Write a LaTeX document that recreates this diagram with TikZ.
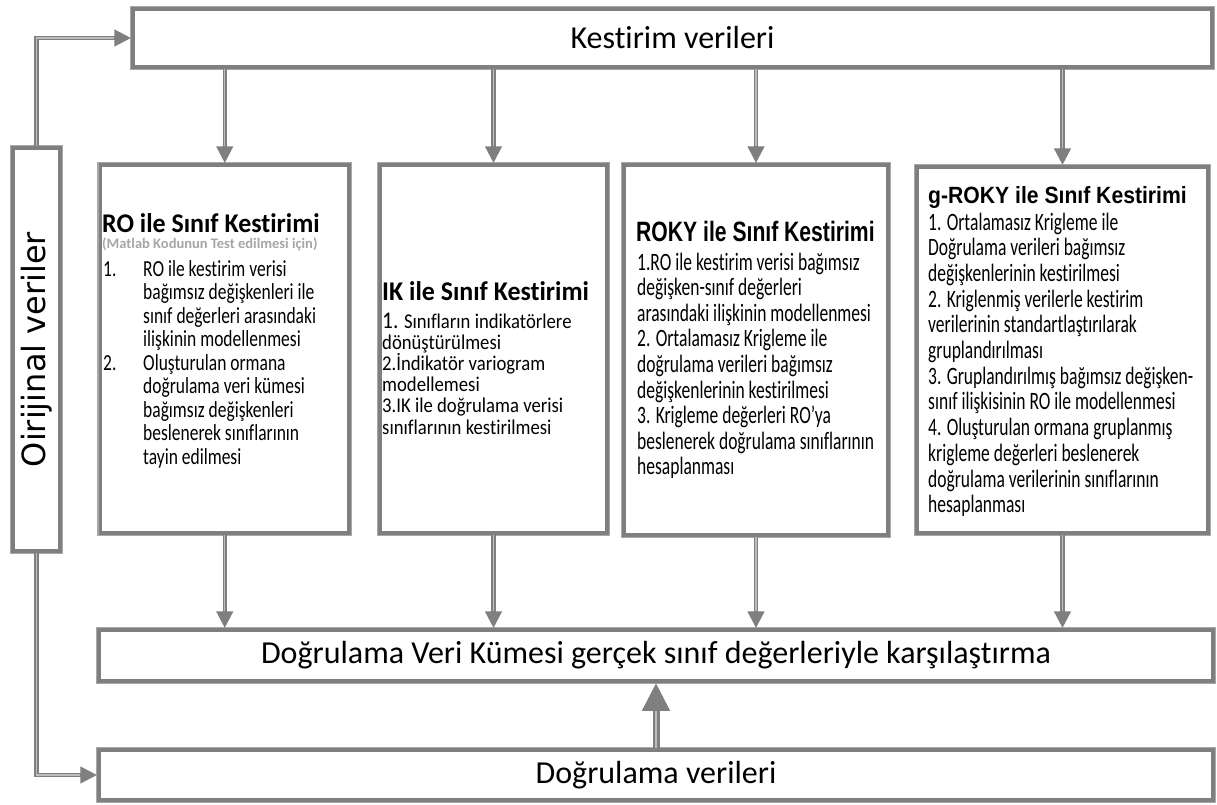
\documentclass[tikz,border=0pt]{standalone}
\usepackage{fontspec}
\usepackage{graphicx}
\usetikzlibrary{arrows.meta}
\setmainfont{Carlito}[Ligatures=NoCommon]
\newfontfamily\calN{Carlito}[Ligatures=NoCommon]
\newfontfamily\calT{Carlito}[FakeStretch=0.76,Ligatures=NoCommon]
\newfontfamily\calB{Carlito}[FakeStretch=0.89,Ligatures=NoCommon]
\newfontfamily\calS{Carlito}[FakeStretch=0.70,Ligatures=NoCommon]
\newfontfamily\calR{Carlito}[FakeStretch=0.96,Ligatures=NoCommon]
\newfontfamily\arA{Liberation Sans}[FakeStretch=0.755]
\newfontfamily\arB{Liberation Sans}[FakeStretch=0.9]
\newfontfamily\dejav{DejaVu Sans}
\newcommand\setfs[2]{\fontsize{#1}{#2}\selectfont}
\definecolor{gdark}{HTML}{7F7F7F}
\definecolor{glight}{HTML}{A8A8A8}
\definecolor{gstripe}{HTML}{BDBDBD}
\definecolor{gsub}{HTML}{A6A6A6}
\tikzset{
  frame/.style={draw=gdark, line width=3.5pt, fill=white,
    preaction={draw=glight, line width=6.5pt}, inner sep=0pt},
  arr/.style={draw=gdark, line width=4.5pt, -{Triangle[width=16pt,length=17pt]},
    postaction={draw=gstripe, line width=1.2pt, -, shorten >=17pt}},
  bigarr/.style={draw=gdark, line width=7pt, -{Triangle[width=26pt,length=28pt]},
    postaction={draw=gstripe, line width=1.5pt, -, shorten >=28pt}},
  txt/.style={anchor=base west, inner sep=0pt, align=left},
  mainlbl/.style={font=\calN\setfs{32}{36}},
}
\begin{document}
\begin{tikzpicture}[x=1pt, y=-1pt]
\useasboundingbox (0,0) rectangle (1217,804);
\fill[white] (0,0) rectangle (1217,804);

% main boxes
\node[frame, mainlbl, minimum width=1079pt, minimum height=58pt] (top) at (672.5,38) {Kestirim verileri};
\node[frame, minimum width=47pt, minimum height=403pt] (orig) at (36.5,349.5)
  {\rotatebox{90}{\dejav\setfs{32}{34}Oirijinal veriler}};
\node[frame, minimum width=248.5pt, minimum height=368pt] (b1) at (224.75,349) {};
\node[frame, minimum width=227pt, minimum height=368pt] (b2) at (493.5,349) {};
\node[frame, minimum width=264pt, minimum height=370pt] (b3) at (756,350) {};
\node[frame, minimum width=291pt, minimum height=366pt] (b4) at (1062.5,350) {};
\node[frame, mainlbl, minimum width=1114pt, minimum height=51pt] (mid) at (656,655.5)
  {Doğrulama Veri Kümesi gerçek sınıf değerleriyle karşılaştırma};
\node[frame, mainlbl, minimum width=1114pt, minimum height=50pt] (bot) at (656,775) {Doğrulama verileri};

% box 1 text
\node[txt] (b1t) at (102,232) {\calR\bfseries\setfs{27}{30}RO ile Sınıf Kestirimi};
\node[txt, text=gsub] (b1s) at (102,248) {\calN\bfseries\setfs{14.5}{17}(Matlab Kodunun Test edilmesi için)};
\node[txt] (b1b) at (103,276) {\parbox[t]{240pt}{\raggedright\calT\setfs{23}{23.5}%
\makebox[40pt][l]{1.}RO ile kestirim verisi\\
\hspace*{40pt}bağımsız değişkenleri ile\\
\hspace*{40pt}sınıf değerleri arasındaki\\
\hspace*{40pt}ilişkinin modellenmesi\\
\makebox[40pt][l]{2.}Oluşturulan ormana\\
\hspace*{40pt}doğrulama veri kümesi\\
\hspace*{40pt}bağımsız değişkenleri\\
\hspace*{40pt}beslenerek sınıflarının\\
\hspace*{40pt}tayin edilmesi}};

% box 2 text
\node[txt] (b2t) at (382,300) {\calR\bfseries\setfs{27}{30}IK ile Sınıf Kestirimi};
\node[txt] (b2b) at (382,328) {\parbox[t]{220pt}{\raggedright\calB\setfs{21}{21.2}%
{\setfs{24}{21.2}1.} Sınıfların indikatörlere\\
dönüştürülmesi\\
2.İndikatör variogram\\
modellemesi\\
3.IK ile doğrulama verisi\\
sınıflarının kestirilmesi}};

% box 3 text
\node[txt] (b3t) at (636,241) {\arA\bfseries\setfs{28}{32}ROKY ile Sınıf Kestirimi};
\node[txt] (b3b) at (637,270) {\parbox[t]{255pt}{\raggedright\calS\setfs{25}{25.6}%
1.RO ile kestirim verisi bağımsız\\
değişken-sınıf değerleri\\
arasındaki ilişkinin modellenmesi\\
2. Ortalamasız Krigleme ile\\
doğrulama verileri bağımsız\\
değişkenlerinin kestirilmesi\\
3. Krigleme değerleri RO’ya\\
beslenerek doğrulama sınıflarının\\
hesaplanması}};

% box 4 text
\node[txt] (b4t) at (928,203) {\arB\bfseries\setfs{23.5}{28}g-ROKY ile Sınıf Kestirimi};
\node[txt] (b4b) at (928,230) {\parbox[t]{275pt}{\raggedright\calS\setfs{25}{25.7}%
1. Ortalamasız Krigleme ile\\
Doğrulama verileri bağımsız\\
değişkenlerinin kestirilmesi\\
2. Kriglenmiş verilerle kestirim\\
verilerinin standartlaştırılarak\\
gruplandırılması\\
3. Gruplandırılmış bağımsız değişken-\\
sınıf ilişkisinin RO ile modellenmesi\\
4. Oluşturulan ormana gruplanmış\\
krigleme değerleri beslenerek\\
doğrulama verilerinin sınıflarının\\
hesaplanması}};

% connectors
\draw[arr] (orig.north) |- (top.west);
\draw[arr] (orig.south) |- (bot.west);
\foreach \b in {b1,b2,b3,b4} {
  \draw[arr] (top.south -| \b.north) -- (\b.north);
  \draw[arr] (\b.south) -- (\b.south |- mid.north);
}
\draw[bigarr] (bot.north) -- (mid.south);
\end{tikzpicture}
\end{document}
